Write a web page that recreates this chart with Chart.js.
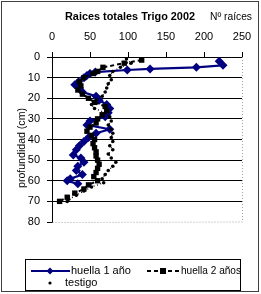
<!DOCTYPE html>
<html>
<head>
<meta charset="utf-8">
<script src="https://cdn.jsdelivr.net/npm/chart.js@4"></script>
<style>
  body { margin: 0; background: #fff; }
  canvas { display: block; }
</style>
</head>
<body>
<canvas id="chart" width="261" height="294"></canvas>
<script>
// Data (depth in cm, number of roots)
const xTicks = [0, 50, 100, 150, 200, 250];
const yTicks = [0, 10, 20, 30, 40, 50, 60, 70, 80];

const seriesNames = ["huella 1 año", "huella 2 años", "testigo"];

const depth1 = [2, 4, 5, 5.8, 6.3, 7.3, 8, 9, 10, 12, 13.5, 15, 17, 19, 21, 23, 25, 27, 29, 31, 33, 35, 37, 39, 41, 43, 45, 47.5, 49, 51, 53, 55, 57, 59, 60, 61.5];
const roots1 = [220, 225, 190, 129, 99, 57, 50, 46, 42, 35, 30, 36, 40, 58, 62, 72, 76, 74, 70, 50, 46, 76, 58, 48, 42, 36, 32, 28, 38, 42, 34, 32, 40, 24, 20, 34];

const depth2 = [1.5, 3, 5, 7, 8, 10, 12, 14, 16, 18, 20, 22, 24, 26, 28, 30, 32, 34, 36, 38, 40, 42, 44, 46, 48, 50, 52, 54, 56, 58, 60, 62, 64, 66, 68, 70];
const roots2 = [118, 95, 67, 60, 54, 42, 36, 38, 34, 40, 48, 56, 70, 72, 66, 60, 58, 50, 46, 52, 56, 54, 56, 58, 58, 60, 62, 60, 58, 55, 60, 48, 42, 30, 20, 10];

const depth3 = [1, 3, 5, 7, 9, 11, 13, 15, 17, 19, 21, 23, 25, 27, 29, 31, 33, 35, 37, 39, 41, 43, 45, 47, 49, 51, 53, 55, 57, 59, 61, 63, 65, 67, 69, 70];
const roots3 = [98, 104, 90, 80, 76, 78, 74, 72, 70, 66, 58, 52, 56, 70, 76, 78, 74, 78, 80, 78, 80, 76, 80, 74, 78, 84, 80, 74, 70, 66, 68, 52, 42, 32, 22, 20];

const FONT = "'Liberation Sans', Arial, sans-serif";
const NAVY = "#000080";

function toPoints(depths, roots) {
    return depths.map((d, i) => ({ x: roots[i], y: d }));
}

// Frame, titles and legend drawn around the plot
const decorPlugin = {
    id: "decor",
    afterDraw(chart) {
        const ctx = chart.ctx;
        const area = chart.chartArea;
        ctx.save();

        // dotted right and bottom plot border
        ctx.strokeStyle = "#a0a0a0";
        ctx.lineWidth = 1;
        ctx.setLineDash([1, 2]);
        ctx.beginPath();
        ctx.moveTo(Math.round(area.right) + 0.5, area.top);
        ctx.lineTo(Math.round(area.right) + 0.5, area.bottom);
        ctx.lineTo(area.left, Math.round(area.bottom) + 0.5);
        ctx.stroke();
        ctx.setLineDash([]);

        // outer frame
        ctx.strokeStyle = "#404040";
        ctx.strokeRect(1.5, 1.5, 257, 290);

        // titles
        ctx.fillStyle = "#000";
        ctx.textBaseline = "middle";
        ctx.textAlign = "left";
        ctx.font = "bold 11px " + FONT;
        ctx.fillText("Raices totales Trigo 2002", 65, 17, 130);
        ctx.font = "11px " + FONT;
        ctx.fillText("Nº raíces", 210, 17, 42);

        // y axis title
        ctx.save();
        ctx.translate(22, 148);
        ctx.rotate(-Math.PI / 2);
        ctx.textAlign = "center";
        ctx.fillText("profundidad (cm)", 0, 0, 80);
        ctx.restore();

        // legend box
        ctx.strokeStyle = "#000";
        ctx.lineWidth = 1;
        ctx.strokeRect(25.5, 259.5, 215, 31);

        const row1 = 271, row2 = 283;
        // huella 1 año
        ctx.strokeStyle = NAVY;
        ctx.fillStyle = NAVY;
        ctx.lineWidth = 2;
        ctx.beginPath();
        ctx.moveTo(31, row1);
        ctx.lineTo(70, row1);
        ctx.stroke();
        ctx.beginPath();
        ctx.moveTo(50, row1 - 3.5);
        ctx.lineTo(53.5, row1);
        ctx.lineTo(50, row1 + 3.5);
        ctx.lineTo(46.5, row1);
        ctx.closePath();
        ctx.fill();

        // huella 2 años
        ctx.strokeStyle = "#000";
        ctx.fillStyle = "#000";
        ctx.setLineDash([4, 3]);
        ctx.beginPath();
        ctx.moveTo(147, row1);
        ctx.lineTo(180, row1);
        ctx.stroke();
        ctx.setLineDash([]);
        ctx.fillRect(160, row1 - 3, 6, 6);

        // testigo
        ctx.beginPath();
        ctx.arc(50, row2, 1.6, 0, Math.PI * 2);
        ctx.fill();

        ctx.font = "11px " + FONT;
        ctx.fillText(seriesNames[0], 71, row1, 70);
        ctx.fillText(seriesNames[1], 181, row1, 60);
        ctx.fillText(seriesNames[2], 65, row2, 36);

        ctx.restore();
    }
};

const ctx = document.getElementById("chart").getContext("2d");

new Chart(ctx, {
    type: "scatter",
    data: {
        datasets: [
            {
                label: seriesNames[0],
                data: toPoints(depth1, roots1),
                showLine: true,
                borderColor: NAVY,
                backgroundColor: NAVY,
                borderWidth: 2.2,
                pointStyle: "rectRot",
                pointRadius: 4.5,
                pointBorderWidth: 0,
                order: 2
            },
            {
                label: seriesNames[1],
                data: toPoints(depth2, roots2),
                showLine: true,
                borderColor: "#000",
                backgroundColor: "#000",
                borderWidth: 2,
                borderDash: [4, 3],
                pointStyle: "rect",
                pointRadius: 3.8,
                pointBorderWidth: 0,
                order: 1
            },
            {
                label: seriesNames[2],
                data: toPoints(depth3, roots3),
                showLine: true,
                borderColor: "#000",
                backgroundColor: "#000",
                borderWidth: 1.3,
                borderDash: [1, 2.5],
                pointStyle: "circle",
                pointRadius: 1.8,
                pointBorderWidth: 0,
                order: 0
            }
        ]
    },
    options: {
        responsive: false,
        devicePixelRatio: 1,
        animation: false,
        layout: { padding: { left: 0, right: 19, top: 28, bottom: 72 } },
        plugins: {
            legend: { display: false },
            tooltip: { enabled: false }
        },
        scales: {
            x: {
                type: "linear",
                position: "top",
                min: 0,
                max: 250,
                afterBuildTicks: (scale) => { scale.ticks = xTicks.map(v => ({ value: v })); },
                afterFit: (scale) => { scale.height = 29; },
                grid: {
                    drawOnChartArea: false,
                    drawTicks: true,
                    tickLength: 5,
                    tickColor: "#000"
                },
                border: { color: "#000", width: 1 },
                ticks: {
                    color: "#000",
                    padding: 8,
                    maxRotation: 0,
                    font: { family: FONT, size: 11 }
                }
            },
            y: {
                type: "linear",
                reverse: true,
                min: 0,
                max: 80,
                afterBuildTicks: (scale) => { scale.ticks = yTicks.map(v => ({ value: v })); },
                afterFit: (scale) => { scale.width = 52; },
                grid: {
                    color: (c) => (c.tick && c.tick.value === 80) ? "rgba(0,0,0,0)" : "#000",
                    lineWidth: 1,
                    tickLength: 5,
                    tickColor: "#000"
                },
                border: { color: "#000", width: 1 },
                ticks: {
                    color: "#000",
                    padding: 7,
                    font: { family: FONT, size: 11 }
                }
            }
        }
    },
    plugins: [decorPlugin]
});
</script>
</body>
</html>
